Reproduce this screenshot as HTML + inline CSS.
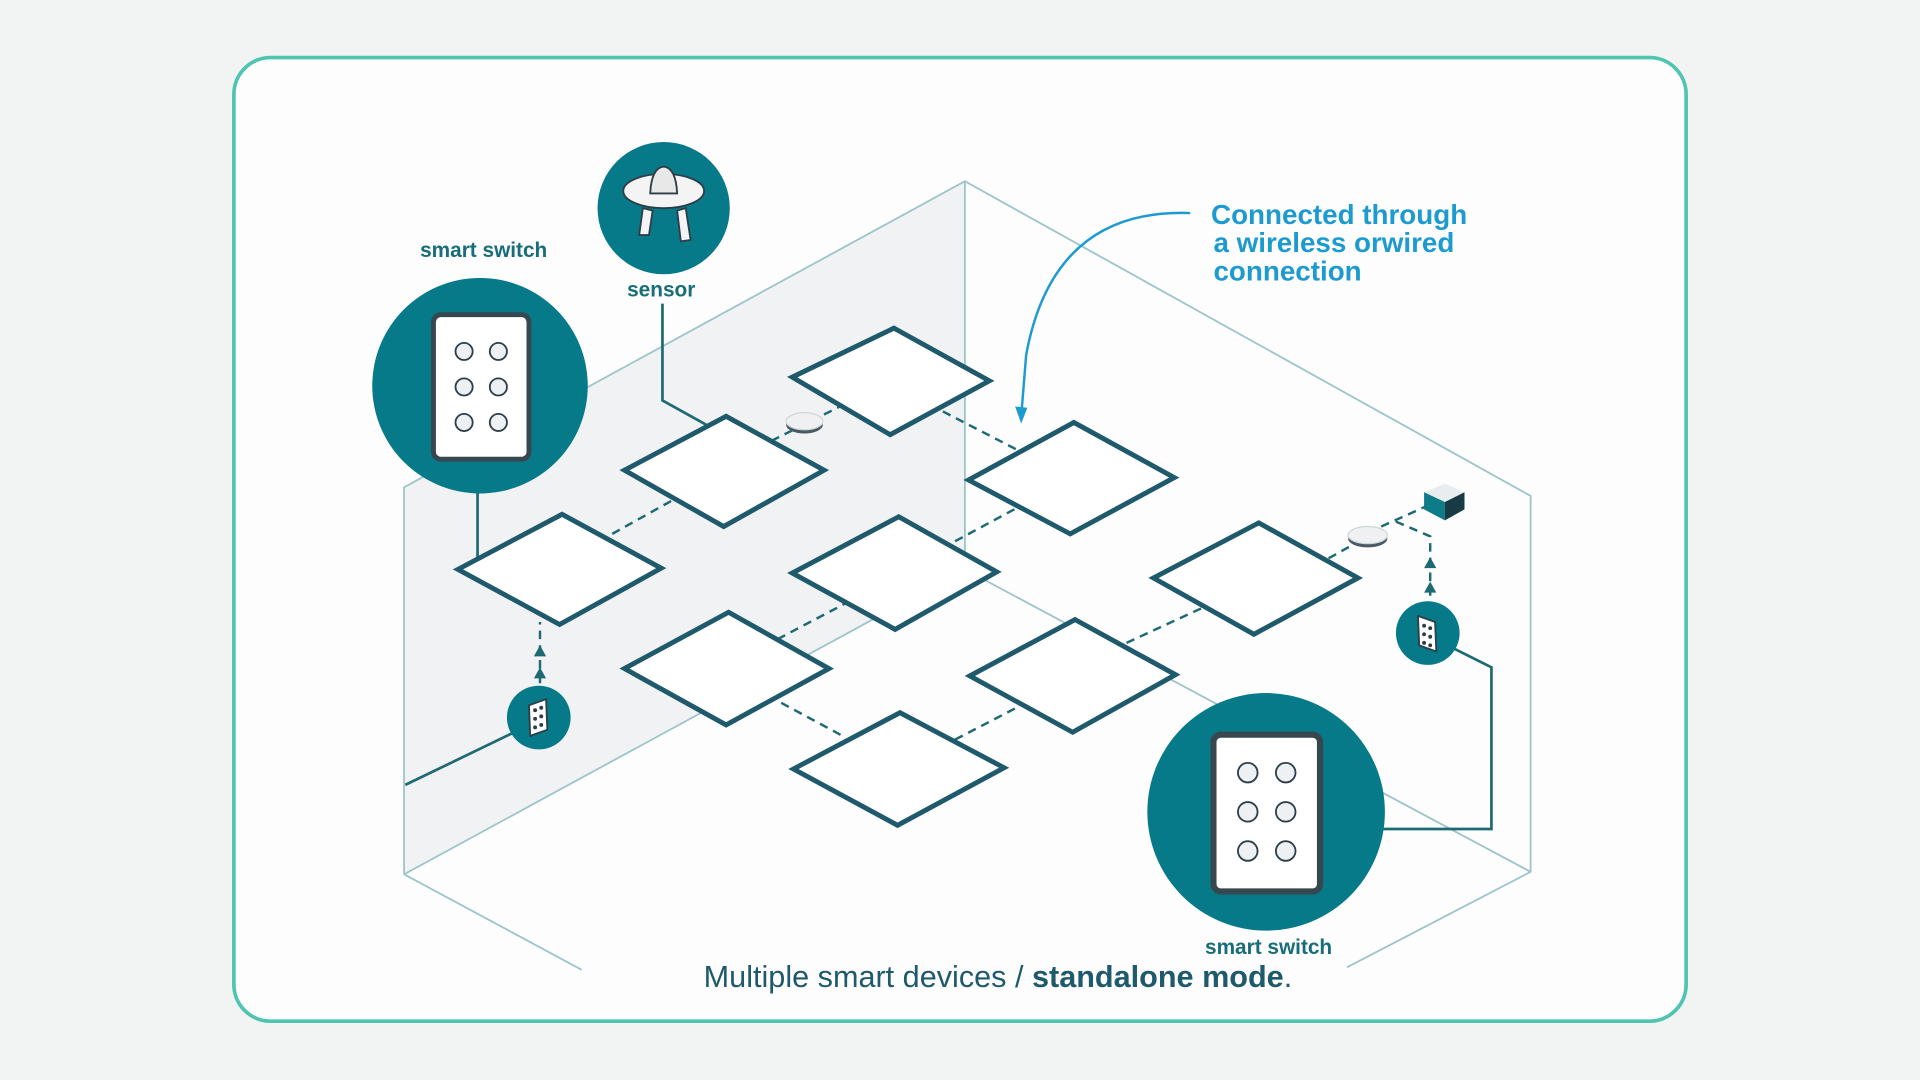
<!DOCTYPE html>
<html><head><meta charset="utf-8"><style>
html,body{margin:0;padding:0;background:#f2f4f3;width:1920px;height:1080px;overflow:hidden}
svg{display:block}
text{font-family:"Liberation Sans",sans-serif}
</style></head><body>
<svg width="1920" height="1080" viewBox="0 0 1568 882" xmlns="http://www.w3.org/2000/svg">
<rect width="1568" height="882" fill="#f2f4f3"/>
<rect x="191" y="47" width="1186" height="787" rx="30" fill="#fdfdfd" stroke="#4fc4b0" stroke-width="3"/>
<polygon points="330,398 788,148 788,465 330,714" fill="#f1f2f4"/>
<g stroke="#9fc5cb" stroke-width="1.5" fill="none">
<polyline points="330,714 330,398 788,148 1250,405 1250,712 1100,790"/>
<line x1="788" y1="148" x2="788" y2="465"/>
<line x1="330" y1="714" x2="788" y2="465"/>
<line x1="788" y1="465" x2="1250" y2="712"/>
<line x1="330" y1="714" x2="475" y2="792"/>
</g>
<g stroke="#1e6a74" stroke-width="2" stroke-dasharray="7,5" fill="none">
<line x1="500" y1="436" x2="552" y2="407"/>
<line x1="630" y1="360" x2="690" y2="330"/>
<line x1="770" y1="336" x2="830" y2="367"/>
<line x1="780" y1="442" x2="832" y2="414"/>
<line x1="635" y1="522" x2="690" y2="493"/>
<line x1="920" y1="525" x2="985" y2="495"/>
<line x1="638" y1="574" x2="690" y2="602"/>
<line x1="780" y1="604" x2="832" y2="577"/>
<line x1="1085" y1="456" x2="1110" y2="442"/>
<line x1="1128" y1="430" x2="1168" y2="412"/>
<polyline points="1140,426 1168,438 1168,490"/>
<line x1="441" y1="558" x2="441" y2="508"/>
</g>
<g fill="#1e6a74">
<polygon points="1168,455 1163,464 1173,464"/>
<polygon points="1168,475 1163,484 1173,484"/>
<polygon points="441,527 436,536 446,536"/>
<polygon points="441,545 436,554 446,554"/>
</g>
<g stroke="#1e6a74" stroke-width="2.2" fill="none">
<polyline points="541,248 541,327 577,347"/>
<line x1="390" y1="395" x2="390" y2="456"/>
<line x1="420" y1="598" x2="331" y2="641"/>
<polyline points="1188,530 1218,545 1218,677 1128,677"/>
</g>
<g fill="#fff" stroke="#1e5a6b" stroke-width="4" stroke-linejoin="miter">
<polygon points="730,268 808,311 727,355 647,308"/>
<polygon points="593,340 673,384 591,430 510,384"/>
<polygon points="877,345 959,390 874,436 791,392"/>
<polygon points="459,420 540,464 457,510 374,465"/>
<polygon points="734,422 814,467 731,514 647,468"/>
<polygon points="1028,427 1109,472 1024,518 942,472"/>
<polygon points="595,500 677,546 593,592 510,546"/>
<polygon points="878,506 960,551 876,598 792,552"/>
<polygon points="735,582 820,627 733,674 648,628"/>
</g>
<ellipse cx="657" cy="347" rx="15" ry="7" fill="#4a5a63"/>
<ellipse cx="657" cy="344" rx="15" ry="7" fill="#eef0f1" stroke="#cfd6d8"/>
<ellipse cx="1117" cy="440" rx="16" ry="7" fill="#4a5a63"/>
<ellipse cx="1117" cy="437" rx="16" ry="7" fill="#eef0f1" stroke="#cfd6d8"/>
<polygon points="1163,402 1180,395 1196,402 1180,410" fill="#e8eeef"/>
<polygon points="1163,402 1180,410 1180,425 1163,416" fill="#0d7b88"/>
<polygon points="1180,410 1196,402 1196,416 1180,425" fill="#173a44"/>
<circle cx="392" cy="315" r="88" fill="#067a88"/>
<rect x="354" y="257" width="78" height="118" rx="6" fill="#fff" stroke="#37474f" stroke-width="4"/>
<g fill="#eef1f3" stroke="#2e3e48" stroke-width="1.5">
<circle cx="379" cy="287" r="7"/><circle cx="407" cy="287" r="7"/>
<circle cx="379" cy="316" r="7"/><circle cx="407" cy="316" r="7"/>
<circle cx="379" cy="345" r="7"/><circle cx="407" cy="345" r="7"/>
</g>
<circle cx="542" cy="170" r="54" fill="#067a88"/>
<g stroke="#2e3e48" stroke-width="1.5">
<path d="M525,170 L522,192 L530,192 L533,172 Z" fill="#f4f4f4"/>
<path d="M560,170 L564,196 L556,197 L553,172 Z" fill="#f4f4f4"/>
<ellipse cx="542" cy="156" rx="33" ry="14" fill="#f4f4f4"/>
<path d="M531,158 Q532,137 542,136 Q552,137 553,158 Z" fill="#e8e8e8"/>
</g>
<circle cx="440" cy="586" r="26" fill="#067a88"/>
<polygon points="432,576 446,571 447,596 433,601" fill="#fff" stroke="#2e3e48" stroke-width="1.5"/>
<g fill="#2e3e48"><circle cx="437" cy="580" r="1.6"/><circle cx="442" cy="578" r="1.6"/><circle cx="437" cy="587" r="1.6"/><circle cx="442" cy="585" r="1.6"/><circle cx="437" cy="594" r="1.6"/><circle cx="442" cy="592" r="1.6"/></g>
<circle cx="1166" cy="517" r="26" fill="#067a88"/>
<polygon points="1158,503 1172,508 1173,532 1159,527" fill="#fff" stroke="#2e3e48" stroke-width="1.5"/>
<g fill="#2e3e48"><circle cx="1163" cy="511" r="1.6"/><circle cx="1168" cy="513" r="1.6"/><circle cx="1163" cy="518" r="1.6"/><circle cx="1168" cy="520" r="1.6"/><circle cx="1163" cy="525" r="1.6"/><circle cx="1168" cy="527" r="1.6"/></g>
<circle cx="1034" cy="663" r="97" fill="#067a88"/>
<rect x="991" y="600" width="87" height="128" rx="6" fill="#fff" stroke="#37474f" stroke-width="5"/>
<g fill="#eef1f3" stroke="#2e3e48" stroke-width="1.5">
<circle cx="1019" cy="631" r="8"/><circle cx="1050" cy="631" r="8"/>
<circle cx="1019" cy="663" r="8"/><circle cx="1050" cy="663" r="8"/>
<circle cx="1019" cy="695" r="8"/><circle cx="1050" cy="695" r="8"/>
</g>
<path d="M972,174 Q860,170 838,290 L834,340" stroke="#1d9bd1" stroke-width="2" fill="none"/>
<polygon points="834,346 829,332 839,333" fill="#1d9bd1"/>
<g fill="#176e78" font-weight="bold" font-size="17" text-anchor="middle">
<text x="395" y="210">smart switch</text>
<text x="540" y="242">sensor</text>
<text x="1036" y="779">smart switch</text>
</g>
<g fill="#1d9bd1" font-weight="bold" font-size="22.7">
<text x="989" y="183">Connected through</text>
<text x="991" y="206">a wireless orwired</text>
<text x="991" y="229">connection</text>
</g>
<text x="815" y="806" text-anchor="middle" font-size="25" fill="#1e5a6b">Multiple smart devices / <tspan font-weight="bold">standalone mode</tspan>.</text>
</svg>
</body></html>
